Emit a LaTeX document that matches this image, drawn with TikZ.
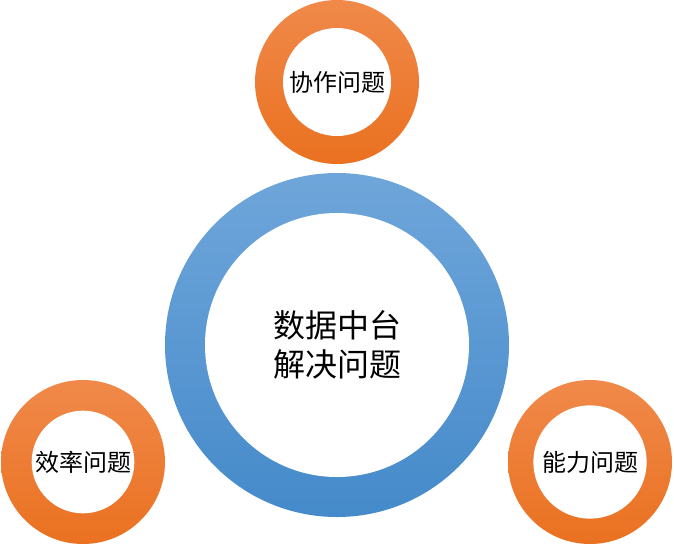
\documentclass[tikz,border=0pt]{standalone}
\usepackage{fontspec}
\setmainfont{Noto Sans CJK SC}
\definecolor{bluetop}{HTML}{6FA6DA}
\definecolor{bluebot}{HTML}{458ACA}
\definecolor{orgtop}{HTML}{F0894A}
\definecolor{orgbot}{HTML}{EA7120}
\tikzset{
  ringblue/.style={circle, draw=none, inner sep=0pt, top color=bluetop, bottom color=bluebot, minimum size=#1},
  ringorg/.style={circle, draw=none, inner sep=0pt, top color=orgtop, bottom color=orgbot, minimum size=#1},
  hole/.style={circle, fill=white, draw=none, inner sep=0pt, minimum size=#1, align=center, text=black},
}
\begin{document}
\begin{tikzpicture}[x=0.75pt,y=-0.75pt]
\useasboundingbox (0,0) rectangle (674,543);
% central ring
\node[ringblue=258pt] (core) at (337,345) {};
\node[hole=198pt, font=\fontsize{24pt}{29pt}\selectfont] (corein) at (337,345) {数据中台\\解决问题};
% top ring
\node[ringorg=123pt] (top) at (337,82) {};
\node[hole=81pt, font=\fontsize{18pt}{22pt}\selectfont] (topin) at (337,82) {协作问题};
% bottom-left ring
\node[ringorg=123pt] (left) at (83,462) {};
\node[hole=77pt, font=\fontsize{18pt}{22pt}\selectfont] (leftin) at (83,462) {效率问题};
% bottom-right ring
\node[ringorg=123pt] (right) at (590,462) {};
\node[hole=85pt, font=\fontsize{18pt}{22pt}\selectfont] (rightin) at (590,462) {能力问题};
\end{tikzpicture}
\end{document}
